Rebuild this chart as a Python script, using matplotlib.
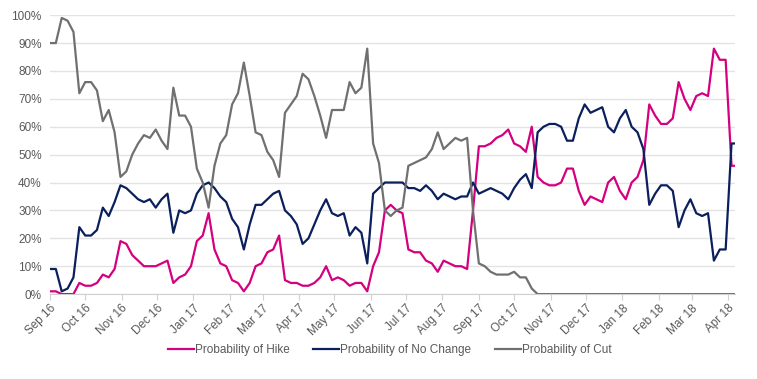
import matplotlib
matplotlib.use("Agg")
import matplotlib.pyplot as plt
import matplotlib.dates as mdates
from matplotlib.ticker import PercentFormatter, MultipleLocator
import pandas as pd

# readings every 5 days starting 1 Sep 2016 (percent)
start_date = "2016-09-01"
step = "5D"

prob_cut = [
    90, 90, 99, 98, 94, 72, 76, 76, 73, 62, 66, 58, 42, 44, 50, 54, 57, 56, 59, 55,
    52, 74, 64, 64, 60, 45, 40, 31, 46, 54, 57, 68, 72, 83, 71, 58, 57, 51, 48, 42,
    65, 68, 71, 79, 77, 71, 64, 56, 66, 66, 66, 76, 72, 74, 88, 54, 47, 30, 28, 30,
    31, 46, 47, 48, 49, 52, 58, 52, 54, 56, 55, 56, 30, 11, 10, 8, 7, 7, 7, 8,
    6, 6, 2, 0, 0, 0, 0, 0, 0, 0, 0, 0, 0, 0, 0, 0, 0, 0, 0, 0,
    0, 0, 0, 0, 0, 0, 0, 0, 0, 0, 0, 0, 0, 0, 0, 0, 0, 0,
]
prob_no_change = [
    9, 9, 1, 2, 6, 24, 21, 21, 23, 31, 28, 33, 39, 38, 36, 34, 33, 34, 31, 34,
    36, 22, 30, 29, 30, 36, 39, 40, 38, 35, 33, 27, 24, 16, 25, 32, 32, 34, 36, 37,
    30, 28, 25, 18, 20, 25, 30, 34, 29, 28, 29, 21, 24, 22, 11, 36, 38, 40, 40, 40,
    40, 38, 38, 37, 39, 37, 34, 36, 35, 34, 35, 35, 40, 36, 37, 38, 37, 36, 34, 38,
    41, 43, 38, 58, 60, 61, 61, 60, 55, 55, 63, 68, 65, 66, 67, 60, 58, 63, 66, 60,
    58, 52, 32, 36, 39, 39, 37, 24, 30, 34, 29, 28, 29, 12, 16, 16, 54, 54,
]
prob_hike = [
    1, 1, 0, 0, 0, 4, 3, 3, 4, 7, 6, 9, 19, 18, 14, 12, 10, 10, 10, 11,
    12, 4, 6, 7, 10, 19, 21, 29, 16, 11, 10, 5, 4, 1, 4, 10, 11, 15, 16, 21,
    5, 4, 4, 3, 3, 4, 6, 10, 5, 6, 5, 3, 4, 4, 1, 10, 15, 30, 32, 30,
    29, 16, 15, 15, 12, 11, 8, 12, 11, 10, 10, 9, 30, 53, 53, 54, 56, 57, 59, 54,
    53, 51, 60, 42, 40, 39, 39, 40, 45, 45, 37, 32, 35, 34, 33, 40, 42, 37, 34, 40,
    42, 48, 68, 64, 61, 61, 63, 76, 70, 66, 71, 72, 71, 88, 84, 84, 46, 46,
]

dates = pd.date_range(start_date, periods=len(prob_hike), freq=step)

fig = plt.figure(figsize=(7.57, 3.79), dpi=100)
ax = fig.add_axes([0.066, 0.224, 0.905, 0.736])

ax.plot(dates, prob_hike, color="#D4007F", lw=1.6, label="Probability of Hike")
ax.plot(dates, prob_no_change, color="#0A1F5C", lw=1.6, label="Probability of No Change")
ax.plot(dates, prob_cut, color="#707070", lw=1.6, label="Probability of Cut")

ax.set_ylim(0, 100)
ax.set_xlim(pd.Timestamp("2016-09-01"), pd.Timestamp("2018-04-07"))
ax.yaxis.set_major_locator(MultipleLocator(10))
ax.yaxis.set_major_formatter(PercentFormatter(100, decimals=0))
ax.grid(axis="y", color="#E3E3E3", lw=1)
ax.set_axisbelow(True)

ax.xaxis.set_major_locator(mdates.MonthLocator())
ax.xaxis.set_major_formatter(mdates.DateFormatter("%b %y"))

for s in ["top", "right", "left"]:
    ax.spines[s].set_visible(False)
ax.spines["bottom"].set_color("#D0D0D0")

ax.tick_params(axis="y", length=0, labelsize=8.5, labelcolor="#595959", pad=6)
ax.tick_params(axis="x", length=4, color="#D0D0D0", labelsize=8.5, labelcolor="#595959", pad=2)
for lab in ax.get_xticklabels():
    lab.set_rotation(45)
    lab.set_ha("right")
    lab.set_va("top")
    lab.set_rotation_mode("anchor")

for lab in ax.get_xticklabels() + ax.get_yticklabels():
    lab.set_fontfamily("Liberation Sans")

leg = fig.legend(loc="center", bbox_to_anchor=(0.515, 0.077), ncol=3, frameon=False,
                 prop={"family": "Liberation Sans", "size": 8.5}, handlelength=2.2,
                 handletextpad=0.1, columnspacing=2.0)
for t in leg.get_texts():
    t.set_color("#595959")

fig.savefig("out.png", dpi=100)
